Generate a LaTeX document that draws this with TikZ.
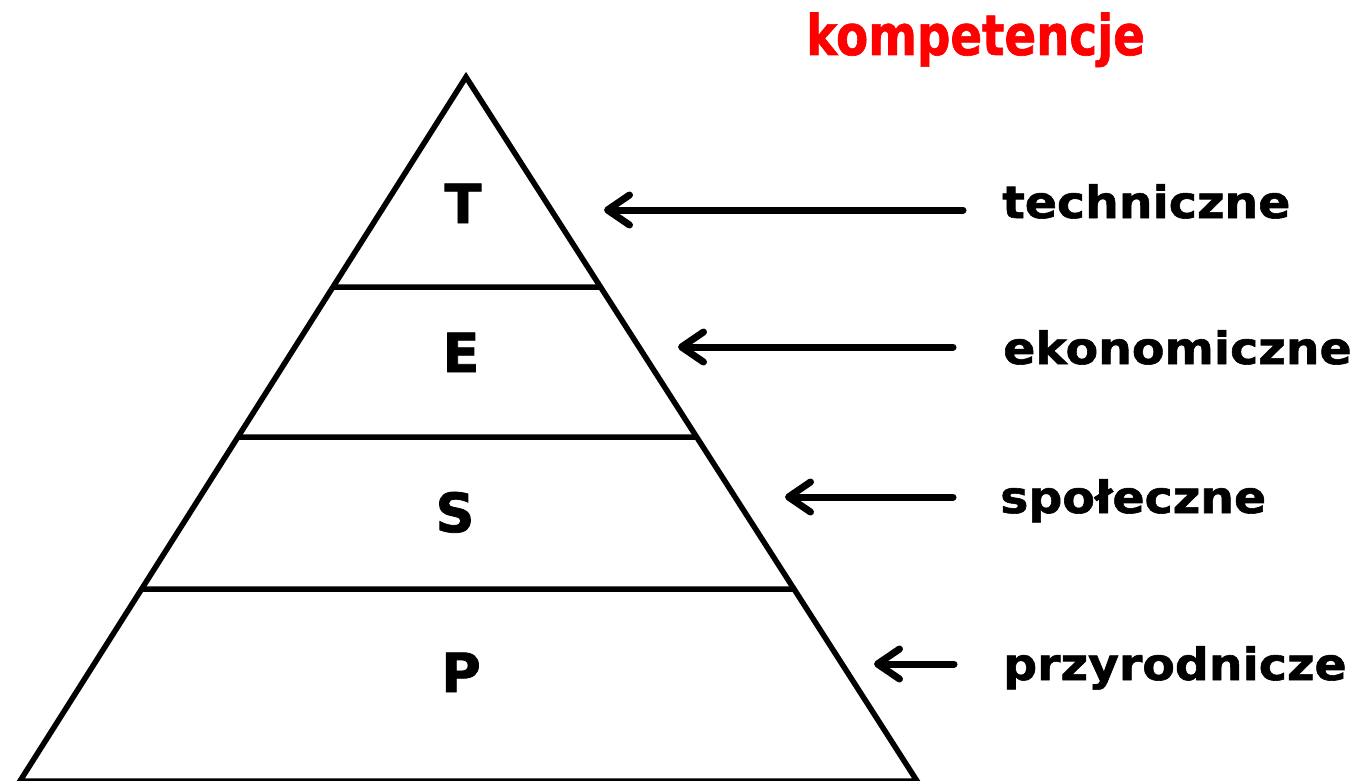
\documentclass[tikz,border=0pt]{standalone}
\usepackage{fontspec}
\usetikzlibrary{arrows.meta}
\newfontfamily\labfont{DejaVu Sans}[FakeStretch=1.065,FakeBold=1.3]
\newfontfamily\letfont{DejaVu Sans}[FakeBold=1.4]
\newfontfamily\titfont{DejaVu Sans}[FakeStretch=0.835,FakeBold=1.2]
\definecolor{titlered}{RGB}{255,0,0}

\begin{document}
\begin{tikzpicture}[x=1pt,y=-1pt,
  frame/.style={line width=5.5pt,line join=miter},
  layer/.style={font=\letfont\bfseries\fontsize{54}{55}\selectfont,anchor=base,inner sep=0pt},
  label/.style={font=\labfont\bfseries\fontsize{44.5}{45}\selectfont,anchor=base west,inner sep=0pt},
  pointer/.style={line width=7pt,line cap=round,line join=round,
    -{Straight Barb[length=22pt,width=30pt,line cap=round,line join=round]}}]
\useasboundingbox (0,0) rectangle (1371,781);

% pyramid outline
\coordinate (A) at (466,77);
\coordinate (BL) at (20,781);
\coordinate (BR) at (917,781);
\draw[frame] (A) -- (BL) -- (BR) -- cycle;

% layer boundaries
\foreach \yy/\nm in {287/one,437/two,589/three}{
  \coordinate (\nm L) at (intersection of A--BL and 0,\yy--10,\yy);
  \coordinate (\nm R) at (intersection of A--BR and 0,\yy--10,\yy);
  \draw[frame] (\nm L) -- (\nm R);
}

% layer letters
\node[layer] (T) at (463,223) {T};
\node[layer] (E) at (461,372) {E};
\node[layer] (S) at (455,532) {S};
\node[layer] (P) at (461,692) {P};

% title
\node[font=\titfont\bfseries\fontsize{56}{57}\selectfont,text=titlered,anchor=base west,inner sep=0pt]
  (title) at (806,55) {kompetencje};

% competence labels
\node[label] (tech) at (1002,218) {techniczne};
\node[label] (eko) at (1003,364) {ekonomiczne};
\node[label] (spo) at (1000,513) {społeczne};
\node[label] (przy) at (1003,680) {przyrodnicze};

% arrows
\coordinate (tT) at (963,210); \coordinate (hT) at (604,210);
\coordinate (tE) at (953,347); \coordinate (hE) at (678,347);
\coordinate (tS) at (953,497); \coordinate (hS) at (785,497);
\coordinate (tP) at (954,664); \coordinate (hP) at (874,664);
\draw[pointer] (tT) -- (hT);
\draw[pointer] (tE) -- (hE);
\draw[pointer] (tS) -- (hS);
\draw[pointer] (tP) -- (hP);
\end{tikzpicture}
\end{document}
